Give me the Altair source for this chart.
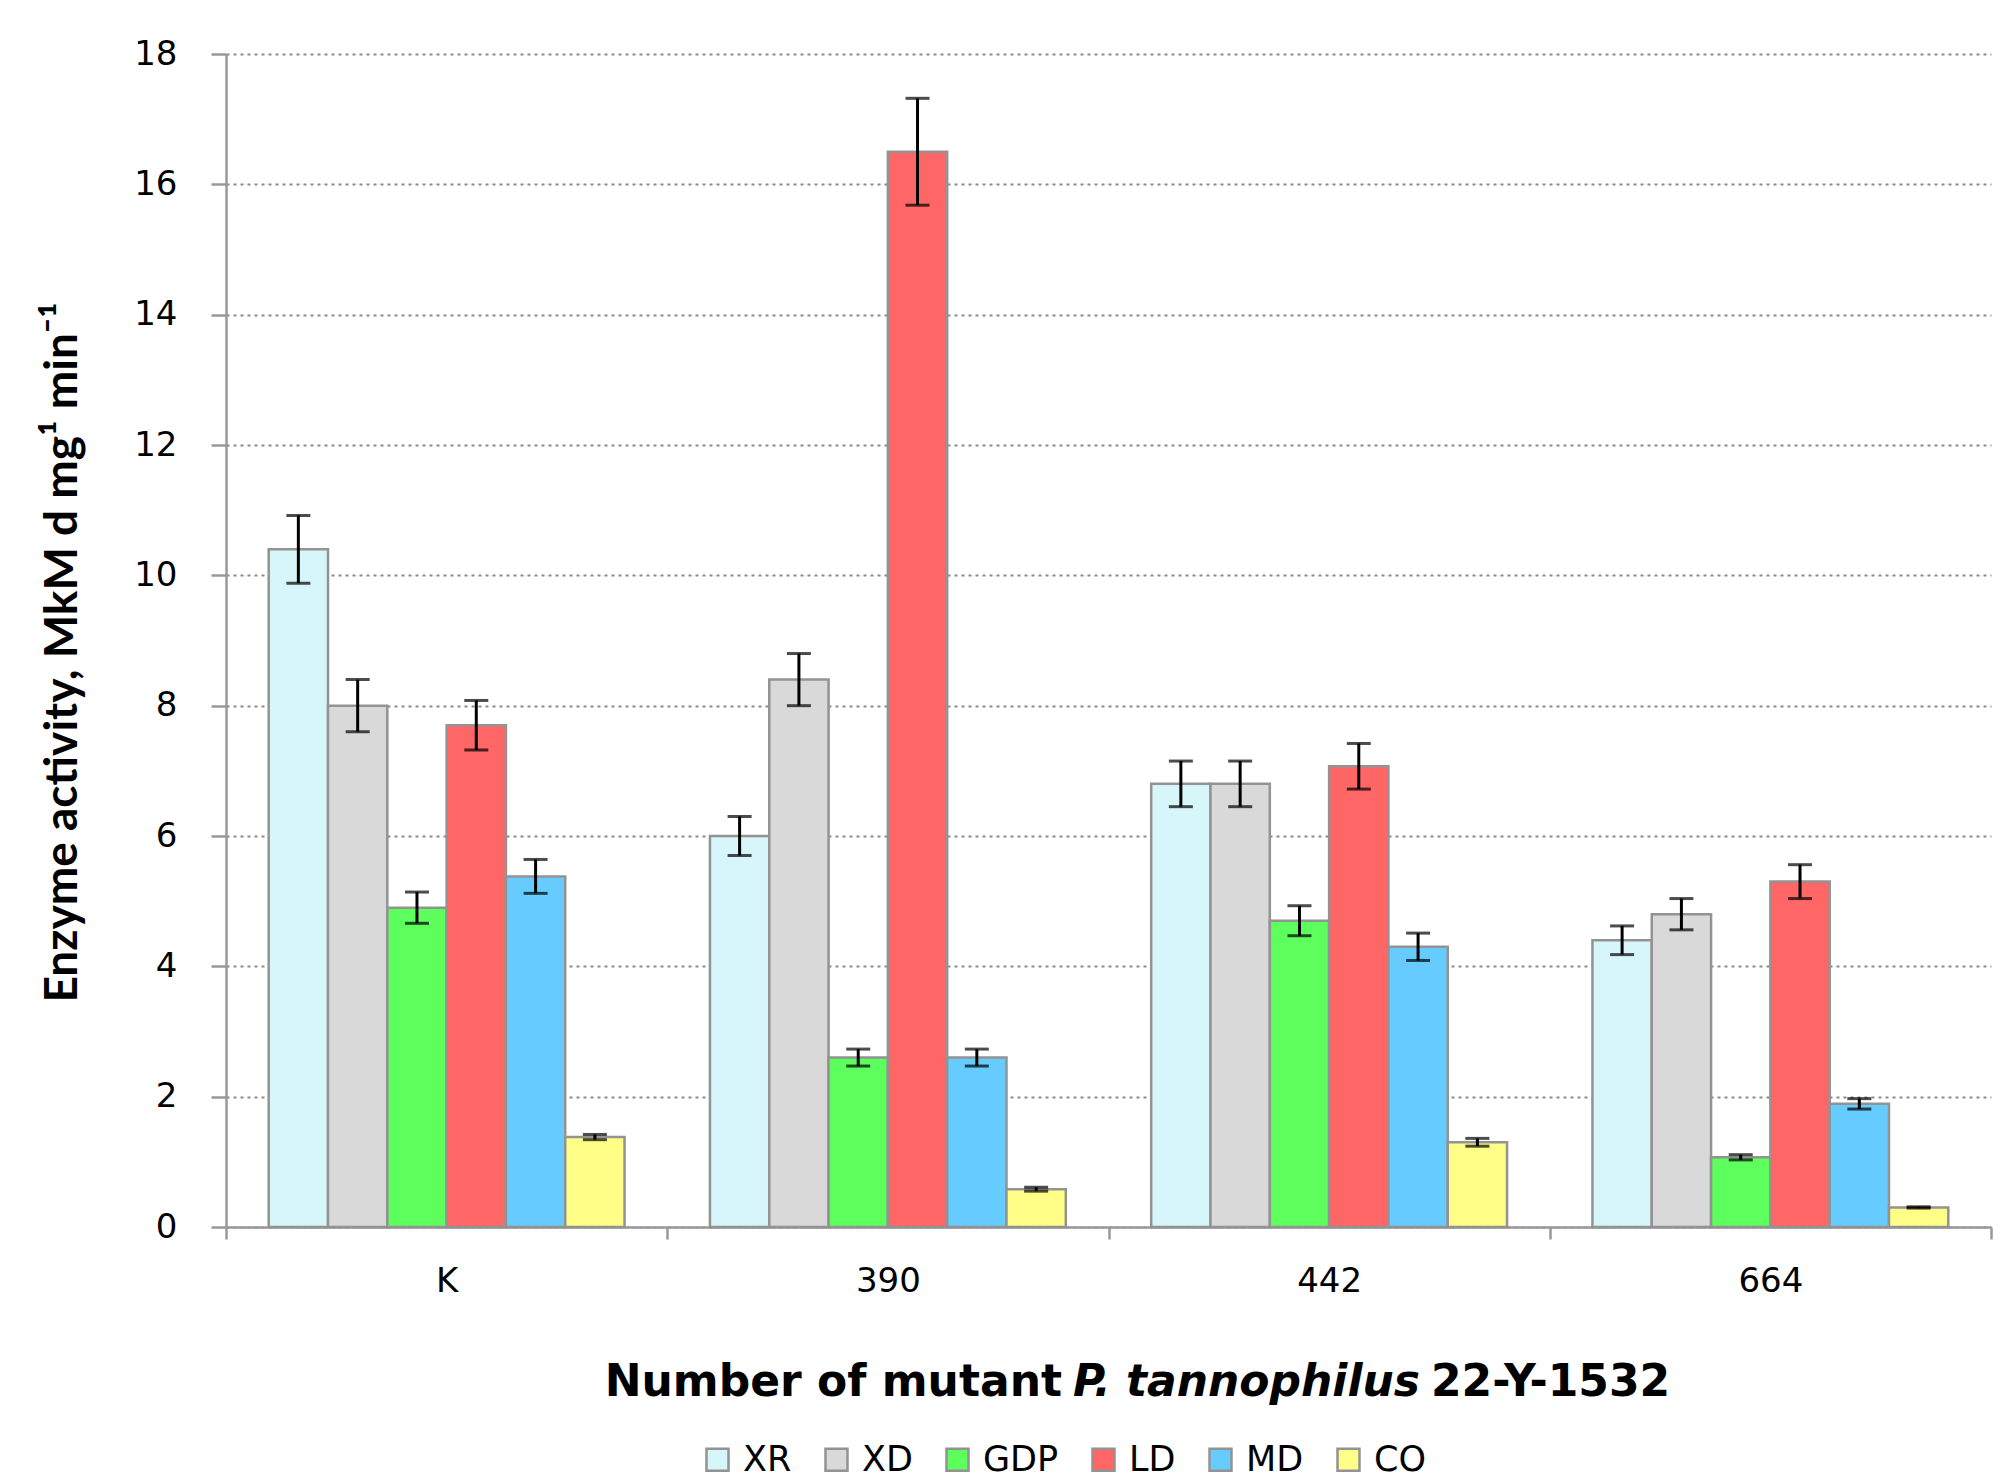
import altair as alt
import pandas as pd

groups = ["K", "390", "442", "664"]
enzymes = ["XR", "XD", "GDP", "LD", "MD", "CO"]
colors = ["#d6f6f9", "#d9d9d9", "#5cff5c", "#ff6666", "#66ccff", "#ffff88"]

values = {
    "XR": [10.4, 6.0, 6.8, 4.4],
    "XD": [8.0, 8.4, 6.8, 4.8],
    "GDP": [4.9, 2.6, 4.7, 1.07],
    "LD": [7.7, 16.5, 7.07, 5.3],
    "MD": [5.38, 2.6, 4.3, 1.89],
    "CO": [1.38, 0.58, 1.3, 0.3],
}
errors = {
    "XR": [0.52, 0.3, 0.35, 0.22],
    "XD": [0.4, 0.4, 0.35, 0.24],
    "GDP": [0.24, 0.13, 0.23, 0.04],
    "LD": [0.38, 0.82, 0.35, 0.26],
    "MD": [0.26, 0.13, 0.21, 0.08],
    "CO": [0.04, 0.03, 0.06, 0.01],
}

rows = []
for e in enzymes:
    for i, g in enumerate(groups):
        v = values[e][i]
        er = errors[e][i]
        rows.append({"group": g, "enzyme": e, "value": v, "lo": v - er, "hi": v + er})
df = pd.DataFrame(rows)

W, H = 1765, 1173
FONT = "DejaVu Sans"

x = alt.X(
    "group:N",
    sort=groups,
    scale=alt.Scale(paddingInner=0, paddingOuter=0),
    axis=alt.Axis(
        title=None,
        tickBand="extent",
        labelFont=FONT,
        labelFontSize=34,
        labelColor="#000",
        labelPadding=25,
        labelAngle=0,
        tickSize=12,
        tickColor="#999",
        tickWidth=2.5,
        domainColor="#999",
        domainWidth=2.5,
        grid=False,
    ),
)
xo = alt.XOffset(
    "enzyme:N", sort=enzymes, scale=alt.Scale(paddingInner=0, paddingOuter=0.72)
)

y_axis = alt.Axis(
    values=list(range(0, 19, 2)),
    format="d",
    title="Enzyme activity, MkM d  mg¹ min⁻¹",
    titleFont="Lato",
    titleFontSize=46,
    titleFontWeight="bold",
    titleColor="#000",
    titleAngle=270,
    titleX=-164,
    titleY=598,
    titleAlign="center",
    titleBaseline="middle",
    labelFont=FONT,
    labelFontSize=34,
    labelColor="#000",
    labelPadding=34,
    tickSize=15,
    tickColor="#999",
    tickWidth=2.5,
    domainColor="#999",
    domainWidth=2.5,
    grid=True,
    gridColor="#8a8a8a",
    gridDash=[3, 4],
    gridWidth=2,
)

bars = alt.Chart(df).mark_bar(stroke="#939393", strokeWidth=2.5).encode(
    x=x,
    xOffset=xo,
    y=alt.Y("value:Q", scale=alt.Scale(domain=[0, 18], nice=False), axis=y_axis),
    color=alt.Color(
        "enzyme:N",
        sort=enzymes,
        scale=alt.Scale(domain=enzymes, range=colors),
        legend=alt.Legend(
            title=None,
            orient="none",
            legendX=474,
            legendY=1388,
            direction="horizontal",
            symbolType="square",
            symbolSize=484,
            symbolStrokeColor="#939393",
            symbolStrokeWidth=2.5,
            labelFont=FONT,
            labelFontSize=35,
            labelColor="#000",
            labelOffset=8,
            columnPadding=27,
        ),
    ),
)

err = alt.Chart(df).mark_rule(color="#000", strokeWidth=3).encode(
    x=alt.X("group:N", sort=groups),
    xOffset=alt.XOffset("enzyme:N", sort=enzymes),
    y="lo:Q",
    y2="hi:Q",
)
cap_lo = alt.Chart(df).mark_tick(color="#000", thickness=3, size=24).encode(
    x=alt.X("group:N", sort=groups),
    xOffset=alt.XOffset("enzyme:N", sort=enzymes),
    y="lo:Q",
)
cap_hi = alt.Chart(df).mark_tick(color="#000", thickness=3, size=24).encode(
    x=alt.X("group:N", sort=groups),
    xOffset=alt.XOffset("enzyme:N", sort=enzymes),
    y="hi:Q",
)

title_a = alt.Chart(pd.DataFrame({"t": ["Number of mutant"]})).mark_text(
    font=FONT, fontSize=44, fontWeight="bold", align="right", baseline="middle", color="#000"
).encode(x=alt.value(836), y=alt.value(1329), text="t:N")
title_b = alt.Chart(pd.DataFrame({"t": ["P. tannophilus"]})).mark_text(
    font=FONT, fontSize=44, fontWeight="bold", fontStyle="italic", align="left",
    baseline="middle", color="#000"
).encode(x=alt.value(847), y=alt.value(1329), text="t:N")
title_c = alt.Chart(pd.DataFrame({"t": ["22-Y-1532"]})).mark_text(
    font=FONT, fontSize=44, fontWeight="bold", align="left", baseline="middle", color="#000"
).encode(x=alt.value(1205), y=alt.value(1329), text="t:N")

chart = (
    alt.layer(bars, err, cap_lo, cap_hi, title_a, title_b, title_c)
    .properties(
        width=W,
        height=H,
        autosize=alt.AutoSizeParams(type="none"),
        padding={"left": 218, "top": 46, "right": 15, "bottom": 252},
        background="white",
    )
    .configure_view(stroke=None)
)

chart.save("out.html", embed_options={"renderer": "svg", "actions": False})
